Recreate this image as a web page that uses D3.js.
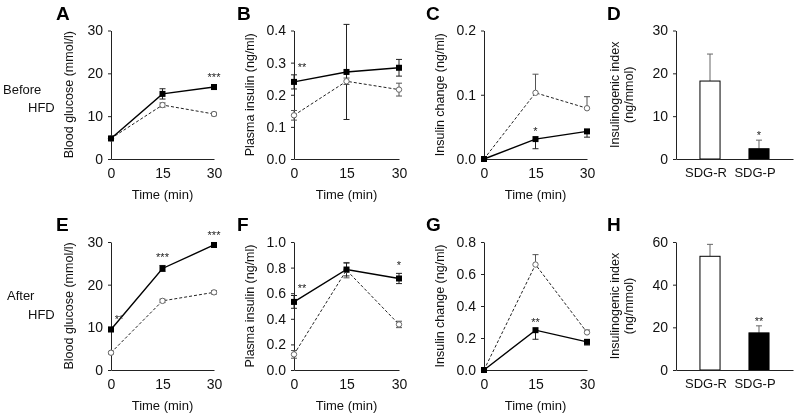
<!DOCTYPE html>
<html>
<head>
<meta charset="utf-8">
<script src="https://cdn.jsdelivr.net/npm/d3@7"></script>
<style>
  html, body { margin: 0; padding: 0; background: #fff; }
  svg { display: block; font-family: Arial, "Liberation Sans", sans-serif; filter: grayscale(1); }
</style>
</head>
<body>
<svg id="chart" width="797" height="417"></svg>
<script>
// ---- data ----
const times = [0, 15, 30];
const groups = ["SDG-R", "SDG-P"];

// A: blood glucose before HFD
const aP = [4.8, 15.2, 16.8], aPerr = [0.3, 1.2, 0.5];
const aR = [4.8, 12.6, 10.5], aRerr = [0.3, 0.5, 0.4];
const aStars = ["", "", "***"];
// B: plasma insulin before HFD
const bP = [0.24, 0.271, 0.284], bPerr = [0.022, 0.148, 0.026];
const bR = [0.136, 0.242, 0.216], bRerr = [0.015, 0.01, 0.02];
const bStars = ["**", "", ""];
// C: insulin change before HFD
const cP = [0, 0.031, 0.043], cPerr = [0, 0.015, 0.009];
const cR = [0, 0.103, 0.079], cRerr = [0, 0.029, 0.018];
const cStars = ["", "*", ""];
// D: insulinogenic index before HFD
const dVals = [18.2, 2.4], dErr = [6.3, 2.0];
const dStars = ["", "*"];
// E: blood glucose after HFD
const eP = [9.5, 23.8, 29.3], ePerr = [0.5, 0.7, 0.4];
const eR = [4.05, 16.2, 18.2], eRerr = [0.3, 0.4, 0.4];
const eStars = ["**", "***", "***"];
// F: plasma insulin after HFD
const fP = [0.532, 0.785, 0.715], fPerr = [0.05, 0.05, 0.04];
const fR = [0.122, 0.78, 0.356], fRerr = [0.03, 0.06, 0.025];
const fStars = ["**", "", "*"];
// G: insulin change after HFD
const gP = [0, 0.249, 0.176], gPerr = [0, 0.057, 0.02];
const gR = [0, 0.659, 0.235], gRerr = [0, 0.062, 0.015];
const gStars = ["", "**", ""];
// H: insulinogenic index after HFD
const hVals = [53.3, 17.4], hErr = [5.6, 3.3];
const hStars = ["", "**"];

// tick labels
const ticksGlucose = [0, 10, 20, 30];
const ticksInsB = [0, 0.1, 0.2, 0.3, 0.4];
const ticksChgC = [0, 0.1, 0.2];
const ticksIdxD = [0, 10, 20, 30];
const ticksInsF = [0, 0.2, 0.4, 0.6, 0.8, 1.0];
const ticksChgG = [0, 0.2, 0.4, 0.6, 0.8];
const ticksIdxH = [0, 20, 40, 60];

// ---- layout ----
const svg = d3.select("#chart");
const rows = [{y0: 159, y1: 30.5, off: 0}, {y0: 370, y1: 242, off: 211}];
const cols = [[111, 214], [294, 399], [484, 587], [676, 793]];
const titleX = [69, 250, 440, 622];
const FONT = "Arial, 'Liberation Sans', sans-serif";

const linePanels = [
  {letter: "A", row: 0, col: 0, P: aP, Pe: aPerr, R: aR, Re: aRerr, stars: aStars, dom: [0, 30], ticks: ticksGlucose, fmt: d3.format("d"), title: "Blood glucose (mmol/l)", Rdir: "both", Pdir: "both"},
  {letter: "B", row: 0, col: 1, P: bP, Pe: bPerr, R: bR, Re: bRerr, stars: bStars, dom: [0, 0.4], ticks: ticksInsB, fmt: d3.format(".1f"), title: "Plasma insulin (ng/ml)", Rdir: "both", Pdir: "both"},
  {letter: "C", row: 0, col: 2, P: cP, Pe: cPerr, R: cR, Re: cRerr, stars: cStars, dom: [0, 0.2], ticks: ticksChgC, fmt: d3.format(".1f"), title: "Insulin change (ng/ml)", Rdir: "up", Pdir: "down"},
  {letter: "E", row: 1, col: 0, P: eP, Pe: ePerr, R: eR, Re: eRerr, stars: eStars, dom: [0, 30], ticks: ticksGlucose, fmt: d3.format("d"), title: "Blood glucose (mmol/l)", Rdir: "both", Pdir: "both"},
  {letter: "F", row: 1, col: 1, P: fP, Pe: fPerr, R: fR, Re: fRerr, stars: fStars, dom: [0, 1.0], ticks: ticksInsF, fmt: d3.format(".1f"), title: "Plasma insulin (ng/ml)", Rdir: "both", Pdir: "both"},
  {letter: "G", row: 1, col: 2, P: gP, Pe: gPerr, R: gR, Re: gRerr, stars: gStars, dom: [0, 0.8], ticks: ticksChgG, fmt: d3.format(".1f"), title: "Insulin change (ng/ml)", Rdir: "up", Pdir: "down"}
];
const barPanels = [
  {letter: "D", row: 0, col: 3, vals: dVals, err: dErr, stars: dStars, dom: [0, 30], ticks: ticksIdxD},
  {letter: "H", row: 1, col: 3, vals: hVals, err: hErr, stars: hStars, dom: [0, 60], ticks: ticksIdxH}
];

const letterX = [56, 237, 426, 607];

function yAxis(g, y, ticks, fmt) {
  g.call(d3.axisLeft(y).tickValues(ticks).tickFormat(fmt).tickSize(3).tickSizeOuter(0).tickPadding(5));
  g.selectAll("path, line").attr("stroke", "#222");
  g.selectAll("text").attr("font-size", 14).attr("fill", "#111").attr("font-family", FONT);
}

function errBar(g, x, yTop, yBot, color) {
  g.append("line").attr("x1", x).attr("x2", x).attr("y1", yTop).attr("y2", yBot).attr("stroke", color).attr("stroke-width", 1);
}
function cap(g, x, yv, color) {
  g.append("line").attr("x1", x - 3).attr("x2", x + 3).attr("y1", yv).attr("y2", yv).attr("stroke", color).attr("stroke-width", 1);
}

function addLetter(letter, col, row) {
  svg.append("text").attr("x", letterX[col]).attr("y", 19.5 + rows[row].off)
    .attr("font-size", 19).attr("font-weight", "bold").attr("fill", "#000").text(letter);
}

function addTitle(lines, col, row, yc) {
  const t = svg.append("text").attr("transform", `translate(${titleX[col]},${yc}) rotate(-90)`)
    .attr("text-anchor", "middle").attr("font-size", 12.5).attr("fill", "#111");
  if (lines.length === 1) {
    t.append("tspan").attr("x", 0).attr("dy", "0.35em").text(lines[0]);
  } else {
    t.append("tspan").attr("x", 0).attr("dy", "-0.25em").text(lines[0]);
    t.append("tspan").attr("x", 0).attr("dy", "1.15em").text(lines[1]);
  }
}

function addStar(g, xPos, yPos, s) {
  g.append("text").attr("x", xPos).attr("y", yPos)
    .attr("text-anchor", "middle").attr("font-size", 11).attr("fill", "#222").text(s);
}

linePanels.forEach(p => {
  const r = rows[p.row];
  const x = d3.scaleLinear().domain([0, 30]).range(cols[p.col]);
  const y = d3.scaleLinear().domain(p.dom).range([r.y0, r.y1]);
  const g = svg.append("g");

  // x axis
  const gx = g.append("g").attr("transform", `translate(0,${r.y0})`)
    .call(d3.axisBottom(x).tickValues(times).tickSize(0).tickPadding(9));
  gx.selectAll("path").attr("stroke", "#222");
  gx.selectAll("text").attr("font-size", 14).attr("fill", "#111").attr("font-family", FONT);
  g.append("text").attr("x", (cols[p.col][0] + cols[p.col][1]) / 2).attr("y", r.y0 + 40)
    .attr("text-anchor", "middle").attr("font-size", 13).attr("fill", "#111").text("Time (min)");

  // y axis
  const gy = g.append("g").attr("transform", `translate(${cols[p.col][0]},0)`);
  yAxis(gy, y, p.ticks, p.fmt);
  addTitle([p.title], p.col, p.row, (r.y0 + r.y1) / 2);

  // error bars
  const drawErr = (vals, errs, dir, color) => {
    vals.forEach((v, i) => {
      if (!errs[i]) return;
      const cx = x(times[i]);
      const top = dir === "down" ? v : v + errs[i];
      const bot = dir === "up" ? v : v - errs[i];
      errBar(g, cx, y(top), y(bot), color);
      if (dir !== "down") cap(g, cx, y(v + errs[i]), color);
      if (dir !== "up") cap(g, cx, y(v - errs[i]), color);
    });
  };
  drawErr(p.R, p.Re, p.Rdir, "#555");
  drawErr(p.P, p.Pe, p.Pdir, "#222");

  const line = d3.line().x((d, i) => x(times[i])).y(d => y(d));
  g.append("path").attr("d", line(p.R)).attr("fill", "none").attr("stroke", "#222")
    .attr("stroke-width", 1).attr("stroke-dasharray", "3,2");
  g.append("path").attr("d", line(p.P)).attr("fill", "none").attr("stroke", "#000").attr("stroke-width", 1.4);

  g.selectAll(".rpt").data(p.R).enter().append("circle")
    .attr("cx", (d, i) => x(times[i])).attr("cy", d => y(d)).attr("r", 2.7)
    .attr("fill", "#fff").attr("stroke", "#666").attr("stroke-width", 1);
  g.selectAll(".ppt").data(p.P).enter().append("rect")
    .attr("x", (d, i) => x(times[i]) - 3).attr("y", d => y(d) - 3).attr("width", 6).attr("height", 6)
    .attr("fill", "#000");

  // significance stars
  p.stars.forEach((s, i) => {
    if (!s) return;
    const top = p.Pdir === "down" ? p.P[i] : p.P[i] + p.Pe[i];
    addStar(g, x(times[i]) + (i === 0 ? 8 : 0), y(top) - 4, s);
  });

  addLetter(p.letter, p.col, p.row);
});

barPanels.forEach(p => {
  const r = rows[p.row];
  const x = d3.scaleBand().domain(groups).range(cols[p.col]).paddingInner(0.59).paddingOuter(0.489);
  const y = d3.scaleLinear().domain(p.dom).range([r.y0, r.y1]);
  const g = svg.append("g");

  // error bars (upward)
  p.vals.forEach((v, i) => {
    const cx = x(groups[i]) + x.bandwidth() / 2;
    errBar(g, cx, y(v + p.err[i]), y(v), "#666");
    cap(g, cx, y(v + p.err[i]), "#666");
  });

  g.selectAll(".bar").data(p.vals).enter().append("rect")
    .attr("x", (d, i) => x(groups[i])).attr("y", d => y(d))
    .attr("width", x.bandwidth()).attr("height", d => r.y0 - y(d))
    .attr("fill", (d, i) => i === 0 ? "#fff" : "#000")
    .attr("stroke", "#000").attr("stroke-width", 1);

  const gx = g.append("g").attr("transform", `translate(0,${r.y0})`)
    .call(d3.axisBottom(x).tickSize(0).tickPadding(9));
  gx.selectAll("path").attr("stroke", "#222");
  gx.selectAll("text").attr("font-size", 13).attr("fill", "#111").attr("font-family", FONT).attr("dx", -4);

  const gy = g.append("g").attr("transform", `translate(${cols[p.col][0]},0)`);
  yAxis(gy, y, p.ticks, d3.format("d"));
  addTitle(["Insulinogenic index", "(ng/mmol)"], p.col, p.row, (r.y0 + r.y1) / 2);

  p.stars.forEach((s, i) => {
    if (!s) return;
    addStar(g, x(groups[i]) + x.bandwidth() / 2, y(p.vals[i] + p.err[i]) - 1, s);
  });

  addLetter(p.letter, p.col, p.row);
});

// row labels
[["Before", 3, 94], ["HFD", 28, 112], ["After", 7, 300], ["HFD", 28, 319]].forEach(d => {
  svg.append("text").attr("x", d[1]).attr("y", d[2]).attr("font-size", 13).attr("fill", "#111").text(d[0]);
});
</script>
</body>
</html>
